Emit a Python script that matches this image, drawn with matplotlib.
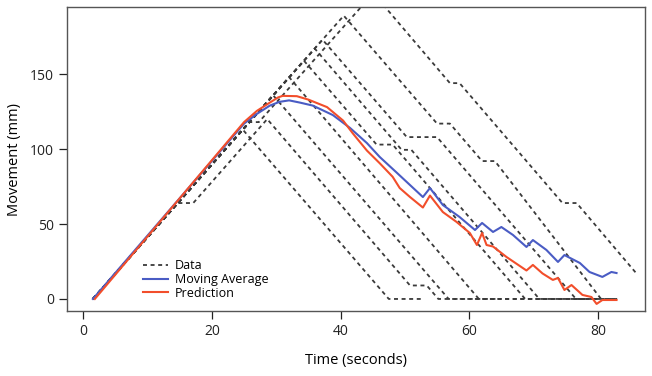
import matplotlib
matplotlib.use("Agg")
import matplotlib.pyplot as plt

plt.rcParams['font.family'] = ['Open Sans', 'DejaVu Sans']

# data trajectories (time in s, movement in mm)
t1 = [1.5, 24.8, 47.5, 52.8]
y1 = [0, 113, 0, 0]
t2 = [1.5, 14.6, 17.1, 28.6, 50.8, 53.4, 55.2, 78]
y2 = [0, 64, 64, 120, 9, 9, 0, 0]
t3 = [1.5, 29.5, 56.8, 65]
y3 = [0, 136, 0, 0]
t4 = [1.5, 32.0, 61.5, 72]
y4 = [0, 148, 0, 0]
t5 = [1.5, 34.3, 45.6, 48.1, 68.7, 83]
y5 = [0, 159, 103, 103, 0, 0]
t6 = [1.5, 36.0, 49.5, 51.0, 70.9, 80]
y6 = [0, 167, 99.5, 99.5, 0, 0]
t7 = [1.5, 37.2, 50.3, 55.0, 76.6, 83]
y7 = [0, 173, 108, 108, 0, 0]
t8 = [1.5, 40.5, 55.0, 57.0, 62.0, 64.0, 80.5]
y8 = [0, 189, 117, 117, 92, 92, 0]
t9 = [1.5, 25.8, 27.3, 45.1, 57.0, 58.5, 74.5, 76.7, 86.0]
y9 = [0, 118, 118, 204, 144, 144, 64, 64, 17]
data_t = [t1, t2, t3, t4, t5, t6, t7, t8, t9]
data_y = [y1, y2, y3, y4, y5, y6, y7, y8, y9]

ma_t = [1.5, 25, 27, 29, 30.5, 32, 33.7, 35.7, 38.8, 41.5, 44.1, 46.1, 48.8,
        50.8, 52.8, 53.9, 55.9, 58.5, 60.9, 62, 63.7, 65, 66.8, 68.9, 69.9,
        72, 73.8, 74.8, 77.2, 78.7, 80.7, 82.1, 82.9]
ma_y = [0, 117, 123.5, 129, 131.5, 132.5, 131, 129, 122.7, 114, 104, 94.7, 84,
        76, 68, 74, 62.7, 54.7, 46, 50.7, 44.7, 48, 42.7, 34.7, 39.3,
        32.7, 24.7, 29.3, 24, 18, 14.7, 18, 17.3]

pred_t = [1.8, 25, 27, 29, 30.3, 31, 33.2, 35, 37.9, 40.4, 41.9, 44.1, 46.1,
          48.1, 49.2, 50.8, 52.8, 53.9, 55.9, 58, 60.1, 61.2, 62, 62.7, 63.7,
          65.8, 68.9, 69.9, 71.4, 73, 73.8, 74.8, 75.9, 77.6, 79, 79.8, 80.7, 82.9]
pred_y = [0, 118, 125.5, 131, 134.5, 135.5, 135.3, 133, 128, 119, 110.5, 99, 90.5,
          81.5, 74, 68, 61, 69, 58, 51.5, 44, 36, 44, 36, 35,
          28, 19, 22.7, 17, 12.7, 14, 6, 9.3, 2.7, 1.3, -3.3, -0.7, -0.7]

fig = plt.figure(figsize=(6.52, 3.76), dpi=100)
ax = fig.add_axes([0.103, 0.173, 0.886, 0.808])

for i in range(len(data_t)):
    ax.plot(data_t[i], data_y[i], color='#3a3a3a', lw=1.3, ls=(0, (2.2, 2.0)),
            label='Data' if i == 0 else None)
ax.plot(ma_t, ma_y, color='#4a5cc4', lw=1.5, label='Moving Average')
ax.plot(pred_t, pred_y, color='#f24e2b', lw=1.5, label='Prediction')

ax.set_xlim(-2.5, 87.3)
ax.set_ylim(-8, 194.7)
ax.set_xticks([0, 20, 40, 60, 80])
ax.set_yticks([0, 50, 100, 150])
ax.tick_params(direction='out', length=6, width=0.9, labelsize=10, colors='#222222')
for s in ax.spines.values():
    s.set_color('#555555')
    s.set_linewidth(1.0)

ax.set_xlabel('Time (seconds)', fontsize=10.5, labelpad=10)
ax.set_ylabel('Movement (mm)', fontsize=10.5, labelpad=6)

ax.legend(loc='upper left', bbox_to_anchor=(0.12, 0.19), frameon=False,
          fontsize=9, handlelength=2.0, labelspacing=0.05, borderpad=0,
          handletextpad=0.6)

fig.savefig('out.png', dpi=100)
